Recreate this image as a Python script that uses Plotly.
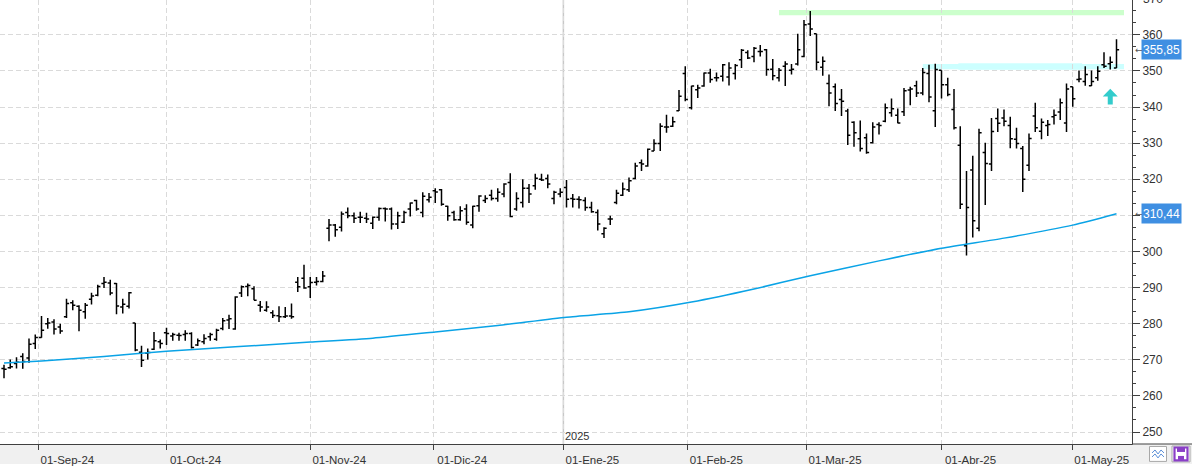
import numpy as np
import pandas as pd
import plotly.graph_objects as go

# ---------------- data ----------------
holidays = ["2024-09-02", "2024-11-28", "2024-12-25", "2025-01-01",
            "2025-01-09", "2025-01-20", "2025-02-17", "2025-04-18"]
dates = pd.bdate_range("2024-08-23", "2025-05-12", freq="C", holidays=holidays)

open_ = [267.6, 267.8, 269.0, 270.9, 270.5, 274.5, 276.2, 280.0, 280.5, 279.1,
         281.9, 285.8, 284.8, 283.3, 286.8, 287.9, 291.1, 291.3, 291.1, 284.6,
         284.8, 280.2, 272.1, 271.8, 272.9, 275.0, 277.5, 276.6, 276.8, 277.0,
         277.3, 274.1, 275.0, 276.4, 275.7, 278.7, 281.0, 278.5, 288.5, 290.3,
         289.7, 285.1, 283.7, 283.0, 282.2, 281.9, 282.1, 291.5, 292.6, 290.2,
         291.5, 291.7, 306.4, 307.3, 306.7, 310.8, 309.9, 309.5, 309.2, 307.8,
         309.5, 311.9, 311.8, 307.6, 308.1, 311.8, 314.1, 310.8, 314.3, 316.8,
         317.1, 312.5, 310.8, 308.8, 311.8, 307.3, 312.7, 314.1, 315.6, 314.7,
         315.9, 319.1, 311.8, 313.6, 317.5, 318.2, 320.0, 320.2, 314.7, 315.9,
         317.7, 314.7, 314.5, 314.1, 312.2, 310.8, 304.9, 309.0, 313.6, 315.6,
         317.1, 320.2, 324.6, 323.7, 327.8, 329.9, 334.5, 334.7, 339.0, 349.3,
         339.8, 344.8, 345.8, 349.4, 348.1, 348.5, 348.3, 349.3, 353.1, 355.1,
         354.0, 355.4, 355.9, 350.5, 348.1, 351.3, 350.2, 351.9, 354.0, 363.0,
         360.3, 351.0, 346.5, 345.6, 342.1, 338.9, 335.8, 331.2, 331.5, 330.1,
         335.2, 336.1, 338.4, 337.7, 338.7, 344.7, 345.9, 343.9, 349.3, 339.0,
         350.2, 346.2, 339.3, 329.4, 301.6, 322.6, 306.4, 327.4, 324.2, 336.8,
         337.0, 334.9, 331.1, 328.5, 323.9, 337.5, 333.3, 334.9, 337.3, 338.6,
         335.6, 345.6, 347.6, 347.1, 345.9, 348.1, 351.7, 352.0, 350.8]
high = [268.6, 270.1, 270.7, 271.8, 275.9, 277.0, 282.1, 281.6, 281.2, 280.0,
        286.9, 286.5, 285.1, 285.7, 288.6, 290.8, 292.9, 292.2, 291.3, 286.9,
        288.8, 280.2, 273.9, 273.1, 277.7, 275.6, 278.9, 277.5, 277.5, 278.2,
        277.6, 275.9, 277.1, 277.5, 278.6, 281.6, 282.5, 287.6, 290.6, 291.1,
        290.4, 286.3, 286.2, 283.7, 284.8, 284.6, 285.6, 292.9, 296.3, 292.9,
        292.9, 294.6, 309.0, 307.6, 311.1, 312.2, 310.8, 311.0, 310.7, 309.7,
        312.2, 312.2, 312.2, 311.0, 311.3, 313.6, 314.3, 316.4, 316.2, 317.5,
        317.3, 312.7, 311.3, 312.5, 313.1, 312.7, 315.6, 315.6, 317.1, 317.5,
        318.9, 321.7, 316.4, 320.0, 318.7, 321.5, 321.5, 321.3, 316.8, 317.5,
        319.8, 315.9, 315.3, 315.0, 313.8, 311.6, 306.7, 309.9, 317.1, 319.1,
        320.5, 324.6, 325.5, 328.5, 331.1, 335.5, 337.9, 337.3, 344.7, 351.3,
        345.9, 346.2, 349.6, 350.6, 349.6, 351.9, 352.4, 351.9, 356.1, 355.7,
        356.6, 357.2, 356.1, 353.3, 350.8, 352.7, 351.9, 360.3, 364.1, 366.6,
        360.3, 354.0, 349.0, 346.5, 345.0, 339.5, 336.1, 336.3, 332.7, 335.8,
        335.8, 341.0, 342.4, 339.6, 345.3, 345.6, 347.3, 350.8, 351.7, 352.0,
        350.2, 348.1, 345.0, 334.7, 322.3, 326.5, 334.0, 330.1, 337.0, 339.6,
        339.3, 337.3, 334.3, 329.2, 332.7, 341.2, 336.8, 336.4, 339.3, 342.4,
        346.5, 345.6, 350.1, 351.3, 350.1, 351.3, 355.2, 354.0, 358.8]
low = [264.9, 267.5, 267.6, 267.5, 269.2, 273.0, 276.1, 278.6, 277.0, 277.2,
       281.6, 283.7, 277.9, 281.4, 285.3, 287.6, 289.9, 287.9, 282.6, 282.8,
       284.2, 272.4, 268.0, 270.1, 272.7, 273.1, 274.1, 275.3, 275.3, 275.3,
       273.1, 273.8, 274.3, 275.3, 275.3, 278.2, 278.5, 278.3, 287.4, 287.6,
       286.5, 283.3, 283.3, 281.6, 280.5, 281.6, 281.4, 288.8, 289.7, 287.1,
       290.6, 291.5, 302.8, 304.1, 305.5, 309.2, 307.9, 307.9, 307.9, 306.2,
       308.5, 308.3, 306.1, 306.2, 307.9, 309.7, 311.3, 309.5, 313.6, 313.4,
       312.7, 308.5, 308.5, 308.5, 307.4, 306.4, 311.0, 313.4, 314.1, 313.8,
       315.0, 309.5, 311.3, 312.2, 313.4, 317.1, 319.5, 317.5, 313.1, 315.0,
       312.2, 312.2, 311.9, 311.3, 310.7, 305.8, 303.7, 307.3, 313.1, 315.4,
       316.5, 320.0, 322.3, 323.5, 327.8, 327.8, 332.9, 334.5, 338.9, 341.6,
       339.3, 342.5, 345.6, 346.7, 347.1, 347.1, 346.0, 347.6, 350.8, 353.3,
       352.4, 354.0, 348.7, 347.4, 347.1, 345.8, 349.0, 351.5, 353.8, 359.7,
       350.2, 348.7, 340.2, 338.9, 337.5, 329.5, 329.0, 327.7, 327.1, 329.9,
       332.4, 335.8, 337.3, 335.5, 337.5, 340.5, 342.8, 343.3, 341.3, 334.5,
       342.4, 343.0, 333.8, 311.8, 298.9, 303.9, 305.6, 312.9, 322.3, 333.1,
       334.7, 328.6, 328.5, 316.5, 322.3, 333.1, 331.1, 332.0, 335.2, 336.4,
       333.1, 340.1, 346.9, 345.9, 345.8, 347.3, 350.8, 350.4, 350.8]
close = [267.4, 268.1, 269.3, 269.5, 274.3, 276.2, 278.2, 280.2, 278.5, 278.0,
         285.6, 285.1, 283.7, 285.1, 287.7, 290.3, 291.5, 288.5, 284.9, 285.4,
         288.6, 272.7, 269.9, 272.0, 275.3, 274.5, 277.3, 277.0, 276.7, 277.3,
         273.4, 275.3, 275.9, 277.0, 278.2, 280.8, 281.4, 287.4, 290.2, 290.6,
         286.5, 284.6, 284.6, 282.3, 281.9, 282.1, 281.9, 290.2, 289.9, 291.4,
         291.7, 293.2, 307.3, 306.0, 310.4, 309.9, 309.2, 309.5, 309.0, 309.5,
         311.9, 311.8, 307.6, 309.9, 310.8, 313.4, 311.8, 315.3, 315.0, 316.5,
         313.1, 309.9, 308.8, 311.3, 308.1, 312.5, 315.4, 314.7, 314.7, 316.4,
         318.7, 309.7, 314.7, 317.5, 315.9, 320.3, 319.8, 318.7, 316.4, 316.4,
         314.5, 314.5, 314.3, 312.2, 311.0, 307.6, 306.4, 309.0, 316.1, 317.3,
         319.6, 323.7, 324.2, 328.3, 329.9, 334.7, 334.5, 335.9, 343.0, 342.1,
         345.8, 345.3, 349.4, 347.6, 348.1, 351.7, 350.8, 351.5, 355.7, 353.6,
         356.3, 355.4, 350.4, 348.7, 350.2, 351.9, 350.5, 355.9, 362.8, 361.6,
         352.4, 352.7, 343.9, 341.0, 341.6, 332.2, 332.9, 328.5, 327.4, 334.5,
         334.9, 339.8, 339.5, 335.6, 344.5, 345.0, 343.9, 349.6, 342.8, 350.4,
         346.2, 343.5, 334.3, 313.1, 312.2, 308.5, 332.9, 324.4, 333.2, 335.5,
         336.1, 331.2, 329.9, 320.0, 331.3, 334.3, 335.8, 335.2, 337.7, 341.2,
         345.0, 342.3, 347.8, 349.0, 347.1, 349.9, 351.3, 352.4, 355.85]

# moving average read at selected sessions
ma_dates = ["2024-08-23", "2024-09-03", "2024-09-17", "2024-10-01", "2024-10-16",
            "2024-11-01", "2024-11-15", "2024-12-02", "2024-12-16", "2025-01-02",
            "2025-01-17", "2025-02-03", "2025-02-18", "2025-03-03", "2025-03-18",
            "2025-04-01", "2025-04-15", "2025-05-01", "2025-05-12"]
ma_values = [269.1, 269.7, 270.9, 272.4, 273.6, 274.9, 276.0, 277.7, 279.5, 281.8,
             283.3, 286.0, 289.6, 293.3, 297.4, 300.9, 303.7, 307.3, 310.44]

# horizontal zones: start date, low, high, colour
zone_start = ["2025-02-24", "2025-03-27"]
zone_low = [365.4, 350.5]
zone_high = [366.9, 351.9]
zone_color = ["#ccffcc", "#ccffff"]

signal_date = "2025-05-09"
signal_value = 345.1

last_price = 355.85
last_ma = 310.44

y_ticks = [250, 260, 270, 280, 290, 300, 310, 320, 330, 340, 350, 360]
y_tick_text = ["250", "260", "270", "280", "290", "300", "", "320", "330", "340", "350", "360"]

month_names = {9: "Sep", 10: "Oct", 11: "Nov", 12: "Dic", 1: "Ene", 2: "Feb",
               3: "Mar", 4: "Abr", 5: "May"}
month_starts = ["2024-09-01", "2024-10-01", "2024-11-01", "2024-12-01", "2025-01-01",
                "2025-02-01", "2025-03-01", "2025-04-01", "2025-05-01"]

# ---------------- helpers ----------------
n = len(dates)
xi = np.arange(n)
date_index = {d.strftime("%Y-%m-%d"): i for i, d in enumerate(dates)}


def date_pos(s):
    d = pd.Timestamp(s)
    if s in date_index:
        return float(date_index[s])
    prev = dates[dates < d]
    nxt = dates[dates > d]
    ip = len(prev) - 1
    frac = (d - prev[-1]) / (nxt[0] - prev[-1])
    return ip + frac


tick_pos = [date_pos(s) for s in month_starts]
tick_txt = []
for s in month_starts:
    d = pd.Timestamp(s)
    tick_txt.append("01-%s-%s" % (month_names[d.month], d.strftime("%y")))

ma_x = [date_index[s] for s in ma_dates]

# layout geometry
W, H = 1192, 466
PW, PH = 1132, 446
x_range = [-0.64, 180.48]
y_range = [246.68, 369.65]
px_per_idx = PW / (x_range[1] - x_range[0])
px_per_unit = PH / (y_range[1] - y_range[0])


def pxx(p):
    return p / PW


def pxy(p):
    return (PH - p) / PH


def valy(v):
    return (v - y_range[0]) / (y_range[1] - y_range[0])


FONT = "Liberation Sans, Arial, sans-serif"
AX = "#404040"
GRID = "#dadada"

fig = go.Figure()
fig.add_trace(go.Ohlc(
    x=xi, open=open_, high=high, low=low, close=close,
    increasing=dict(line=dict(color="black", width=1.5)),
    decreasing=dict(line=dict(color="black", width=1.5)),
    tickwidth=0.42, text=[d.strftime("%d-%m-%Y") for d in dates],
    name="", showlegend=False))

fig.add_trace(go.Scatter(
    x=ma_x, y=ma_values, mode="lines",
    line=dict(color="#0aa3e6", width=1.5, shape="spline", smoothing=0.6),
    hoverinfo="skip", showlegend=False))

shapes = []
last_x = n - 1
for s, lo, hi, c in zip(zone_start, zone_low, zone_high, zone_color):
    shapes.append(dict(type="rect", xref="x", yref="y", x0=date_pos(s), x1=last_x + 1.2,
                       y0=lo, y1=hi, fillcolor=c, line=dict(width=0), layer="below"))
# thicker middle part of the cyan zone
shapes.append(dict(type="rect", xref="x", yref="y", x0=date_pos("2025-04-04") - 0.3,
                   x1=date_pos("2025-05-01") + 1.5, y0=zone_low[1] - 0.2, y1=zone_high[1] + 0.2,
                   fillcolor=zone_color[1], line=dict(width=0), layer="below"))

# year separator
jan = tick_pos[4]
shapes.append(dict(type="line", xref="x", yref="paper", x0=jan, x1=jan, y0=0, y1=1,
                   line=dict(color="#c8c8c8", width=1.5), layer="below"))

# bottom strip
shapes.append(dict(type="rect", xref="paper", yref="paper", x0=0, x1=pxx(W), y0=pxy(H), y1=0,
                   fillcolor="#f0f0f0", line=dict(width=0), layer="below"))
# right part of bottom strip (covers label overflow)
shapes.append(dict(type="rect", xref="paper", yref="paper", x0=pxx(PW + 0.5), x1=pxx(W), y0=pxy(H),
                   y1=pxy(PH + 0.6), fillcolor="#f0f0f0", line=dict(width=0), layer="above"))
shapes.append(dict(type="line", xref="paper", yref="paper", x0=pxx(PW), x1=pxx(W), y0=0, y1=0,
                   line=dict(color=AX, width=1), layer="above"))

# signal arrow (up)
sx = date_pos(signal_date)
hw = 7.5 / px_per_idx
sw = 2.5 / px_per_idx
head = 8 / px_per_unit
tail = 16 / px_per_unit
path = ("M {a},{b} L {c},{d} L {e},{d} L {e},{f} L {g},{f} L {g},{d} L {h},{d} Z").format(
    a=sx, b=signal_value, c=sx + hw, d=signal_value - head, e=sx + sw,
    f=signal_value - tail, g=sx - sw, h=sx - hw)
shapes.append(dict(type="path", xref="x", yref="y", path=path, fillcolor="#33cccc",
                   line=dict(width=0), layer="above"))

# bottom-right icons
shapes.append(dict(type="rect", xref="paper", yref="paper", x0=pxx(1149.5), x1=pxx(1166.5),
                   y0=pxy(463.5), y1=pxy(448.5), fillcolor="white", line=dict(color="#a8a8a8", width=1),
                   layer="above"))
for yy in (0, 4):
    shapes.append(dict(type="path", xref="paper", yref="paper",
                       path="M {} {} L {} {} L {} {} L {} {} L {} {}".format(
                           pxx(1152), pxy(455 + yy), pxx(1155), pxy(452 + yy), pxx(1158), pxy(456 + yy),
                           pxx(1161), pxy(452 + yy), pxx(1164), pxy(455 + yy)),
                       line=dict(color="#5a8fd8", width=1), layer="above"))
shapes.append(dict(type="rect", xref="paper", yref="paper", x0=pxx(1172), x1=pxx(1190),
                   y0=pxy(464), y1=pxy(448), fillcolor="white", line=dict(color="#a8a8a8", width=1),
                   layer="above"))
shapes.append(dict(type="rect", xref="paper", yref="paper", x0=pxx(1174.5), x1=pxx(1187.5),
                   y0=pxy(462.5), y1=pxy(449.5), fillcolor="rgba(0,0,0,0)",
                   line=dict(color="#8a3fc7", width=2.2), layer="above"))
shapes.append(dict(type="rect", xref="paper", yref="paper", x0=pxx(1177), x1=pxx(1185),
                   y0=pxy(454), y1=pxy(449.5), fillcolor="#8a3fc7", line=dict(width=0), layer="above"))
shapes.append(dict(type="rect", xref="paper", yref="paper", x0=pxx(1178), x1=pxx(1184),
                   y0=pxy(462), y1=pxy(458), fillcolor="#8a3fc7", line=dict(width=0), layer="above"))

annotations = []
for val in (last_price, last_ma):
    annotations.append(dict(xref="paper", yref="y", x=pxx(1141), y=val, xanchor="left",
                            yanchor="middle", text=("%.2f" % val).replace(".", ","),
                            showarrow=False, bgcolor="#3f8fe2", width=37, height=17, borderpad=1,
                            font=dict(family=FONT, size=12, color="white")))
    annotations.append(dict(xref="paper", yref="y", x=pxx(1132.5), y=val, xanchor="left",
                            yanchor="middle", text="←", showarrow=False,
                            font=dict(family="DejaVu Sans", size=9, color="#555555")))
# partially visible top tick label
annotations.append(dict(xref="paper", yref="paper", x=pxx(1141), y=valy(370), xanchor="left",
                        yanchor="middle", text="370", showarrow=False,
                        font=dict(family=FONT, size=12, color="#333333")))
annotations.append(dict(xref="x", yref="paper", x=jan, y=0, xanchor="left", yanchor="bottom",
                        xshift=0, text="2025", showarrow=False,
                        font=dict(family=FONT, size=11, color="#333333")))

fig.update_layout(
    width=W, height=H, margin=dict(l=0, r=W - PW, t=0, b=H - PH),
    paper_bgcolor="white", plot_bgcolor="white", showlegend=False,
    shapes=shapes, annotations=annotations, hovermode="closest",
    xaxis=dict(range=x_range, tickvals=tick_pos, ticktext=tick_txt, showgrid=True,
               gridcolor=GRID, griddash="5px,3px", gridwidth=1, ticks="outside", ticklen=5,
               tickcolor=AX, showline=True, linecolor=AX, linewidth=1, zeroline=False,
               tickfont=dict(family=FONT, size=11.5, color="#333333"), ticklabelshift=29,
               rangeslider=dict(visible=False), fixedrange=True),
    yaxis=dict(range=y_range, side="right", tickvals=y_ticks, ticktext=y_tick_text,
               showgrid=True, gridcolor=GRID,
               griddash="5px,3px", ticks="outside", ticklen=7, tickcolor=AX, showline=True,
               linecolor=AX, linewidth=1, zeroline=False,
               tickfont=dict(family=FONT, size=12, color="#333333"),
               minor=dict(dtick=10 / 3, tick0=0, ticks="outside", ticklen=3, tickcolor=AX,
                          showgrid=False),
               fixedrange=True),
)

fig.write_html("out.html")
